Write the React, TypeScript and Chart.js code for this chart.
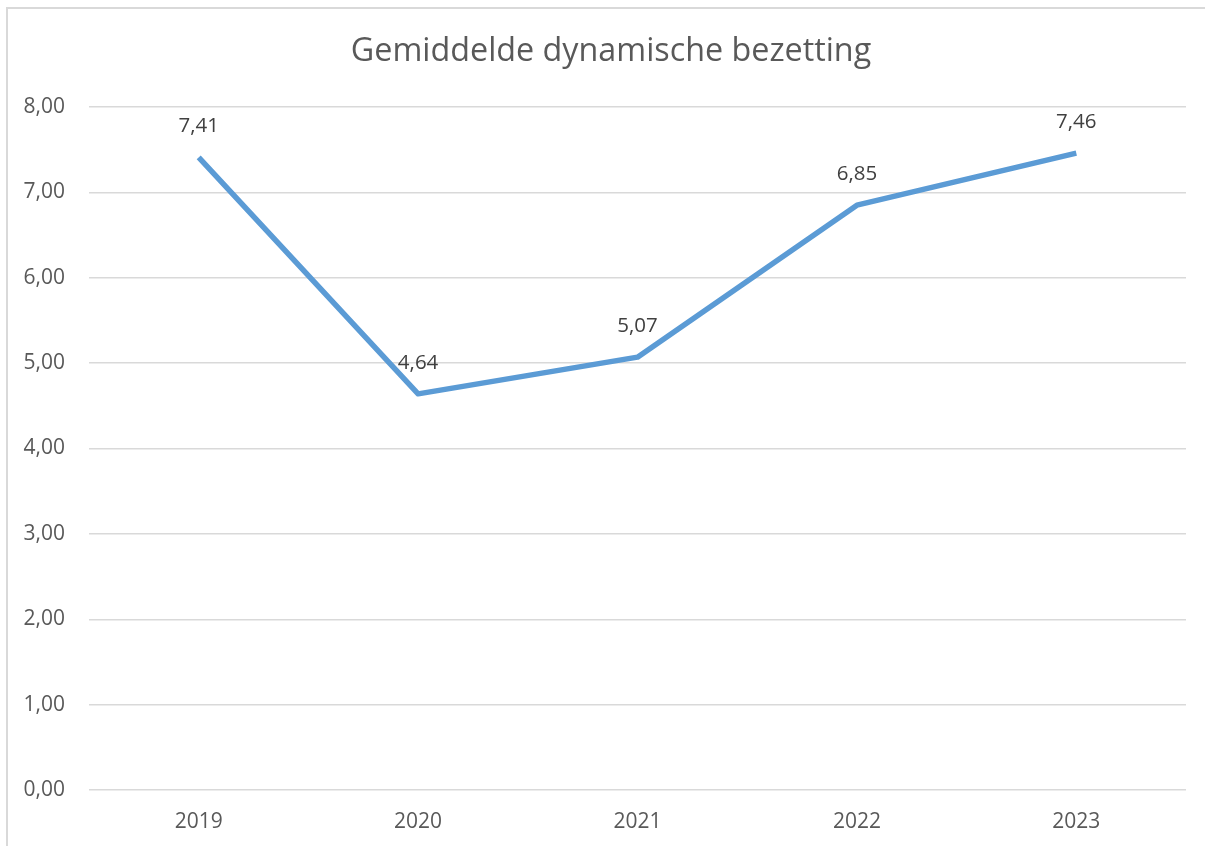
import React, { useEffect, useRef } from "react";
import { Chart, registerables } from "chart.js";

Chart.register(...registerables);

const TITLE = "Gemiddelde dynamische bezetting";
const categories = ["2019", "2020", "2021", "2022", "2023"];
const values = [7.41, 4.64, 5.07, 6.85, 7.46];
const yTicks = [0, 1, 2, 3, 4, 5, 6, 7, 8];

const FONT = "'Open Sans', 'DejaVu Sans', sans-serif";
const fmt = (v: number) => v.toFixed(2).replace(".", ",");

const labelPlugin = {
  id: "pointLabels",
  afterDatasetsDraw(chart: any) {
    const ctx = chart.ctx;
    const meta = chart.getDatasetMeta(0);
    ctx.save();
    ctx.fillStyle = "#404040";
    ctx.font = `20.5px ${FONT}`;
    ctx.textAlign = "center";
    ctx.textBaseline = "middle";
    meta.data.forEach((pt: any, i: number) => {
      ctx.fillText(fmt(values[i]), pt.x, pt.y - 31);
    });
    ctx.restore();
  },
};

const titlePlugin = {
  id: "customTitle",
  afterDraw(chart: any) {
    const ctx = chart.ctx;
    ctx.save();
    ctx.fillStyle = "#595959";
    ctx.font = `32.3px ${FONT}`;
    ctx.textAlign = "center";
    ctx.textBaseline = "middle";
    ctx.fillText(TITLE, 611, 52);
    ctx.restore();
  },
};

export default function App() {
  const ref = useRef<HTMLCanvasElement | null>(null);
  useEffect(() => {
    if (!ref.current) return;
    const chart = new Chart(ref.current, {
      type: "line",
      data: {
        labels: categories,
        datasets: [
          {
            data: values,
            borderColor: "#5B9BD5",
            borderWidth: 5.5,
            pointRadius: 0,
            pointHoverRadius: 0,
            tension: 0,
            fill: false,
            borderCapStyle: "butt",
            borderJoinStyle: "round",
          },
        ],
      },
      options: {
        responsive: false,
        animation: false,
        events: [],
        layout: { padding: { top: 107, right: 19, bottom: 0, left: 0 } },
        plugins: {
          legend: { display: false },
          title: { display: false },
          tooltip: { enabled: false },
        },
        scales: {
          x: {
            offset: true,
            grid: { display: false, drawTicks: false },
            border: { display: false },
            ticks: {
              color: "#595959",
              font: { family: FONT, size: 21 },
              padding: 19,
              maxRotation: 0,
            },
            afterFit(scale: any) {
              scale.height = 56;
            },
          },
          y: {
            min: 0,
            max: 8,
            afterBuildTicks(scale: any) {
              scale.ticks = yTicks.map((v) => ({ value: v }));
            },
            grid: { color: "#d9d9d9", lineWidth: 1.5, drawTicks: false },
            border: { display: false },
            ticks: {
              color: "#595959",
              font: { family: FONT, size: 21 },
              padding: 24,
              callback: (v: any) => fmt(Number(v)),
            },
            afterFit(scale: any) {
              scale.width = 89;
            },
          },
        },
      },
      plugins: [labelPlugin, titlePlugin],
    });
    return () => chart.destroy();
  }, []);

  return (
    <div
      style={{
        position: "fixed",
        left: 0,
        top: 0,
        width: 1205,
        height: 846,
        overflow: "hidden",
        background: "#ffffff",
      }}
    >
      <canvas ref={ref} width={1205} height={846} style={{ position: "absolute", left: 0, top: 0 }} />
      <div
        style={{
          position: "absolute",
          left: 6,
          top: 7,
          width: 1230,
          height: 870,
          borderLeft: "2px solid #d9d9d9",
          borderTop: "2px solid #d9d9d9",
          boxSizing: "border-box",
          pointerEvents: "none",
        }}
      />
    </div>
  );
}
